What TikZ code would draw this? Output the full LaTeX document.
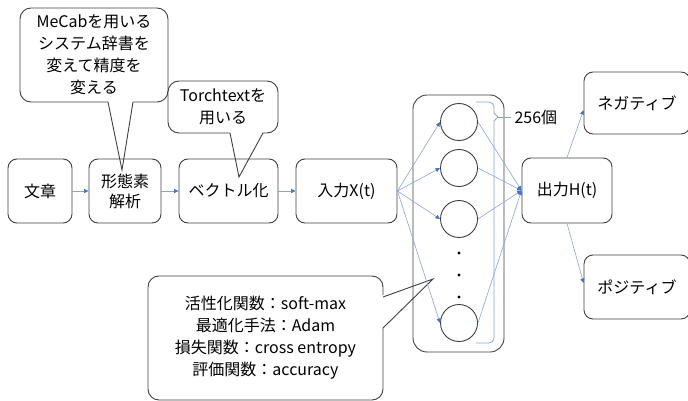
\documentclass[tikz,border=0pt]{standalone}
\usepackage{fontspec}
\setmainfont{Noto Sans CJK JP}
\usetikzlibrary{arrows.meta}
\definecolor{boxline}{HTML}{404040}
\definecolor{linkblue}{HTML}{86A3DA}
\definecolor{tipblue}{HTML}{4472C4}
\tikzset{
  stepbox/.style = {draw=boxline,line width=0.9pt,rounded corners=9pt,align=center,
                    inner sep=0pt,minimum height=64pt,font=\fontsize{16}{20}\selectfont},
  unit/.style    = {circle,draw=boxline,line width=0.9pt,minimum size=37pt,inner sep=0pt},
  note/.style    = {draw=boxline,line width=0.9pt,rounded corners=11pt,fill=white,align=center,
                    inner sep=0pt,font=\fontsize{16}{22}\selectfont},
  link/.style    = {-{Triangle[length=4.5pt,width=4pt,color=tipblue]},linkblue,line width=0.6pt},
  pointer/.style = {boxline,line width=0.9pt,line join=miter}
}

\begin{document}
\begin{tikzpicture}[x=1pt,y=-1pt]
  \useasboundingbox (0,0) rectangle (688,401);

  % speech bubbles, drawn first so the boxes sit on top of the pointers
  \node[note,minimum width=148pt,minimum height=94pt] (mecab) at (94,55)
    {MeCabを用いる\\システム辞書を\\変えて精度を\\変える};
  \fill[white] (107.5,99) -- (122,170) -- (133.5,99) -- cycle;
  \draw[pointer] (108,102) -- (122,170) -- (133,102);

  \node[note,minimum width=110pt,minimum height=52pt] (torch) at (223,107)
    {Torchtextを\\用いる};
  \fill[white] (229.5,130.5) -- (239,177) -- (263.5,130.5) -- cycle;
  \draw[pointer] (230,133) -- (239,177) -- (263,133);

  \node[note,minimum width=235pt,minimum height=124pt] (setting) at (265.5,338)
    {活性化関数：soft-max\\最適化手法：Adam\\損失関数：cross entropy\\評価関数：accuracy};
  \fill[white] (380.5,296) -- (433,279) -- (380.5,329.5) -- cycle;
  \draw[pointer] (383,297) -- (433,279) -- (383,328);

  % processing chain
  \node[stepbox,minimum width=64pt]  (text)  at (40,191)    {文章};
  \node[stepbox,minimum width=72pt]  (morph) at (125,191)   {形態素\\解析};
  \node[stepbox,minimum width=99pt]  (vec)   at (228.5,191) {ベクトル化};
  \node[stepbox,minimum width=101pt] (inx)   at (346.5,191) {入力X(t)};

  % hidden layer
  \node[draw=boxline,line width=0.9pt,rounded corners=14pt,minimum width=91pt,
        minimum height=257pt] (layer) at (458.5,223.5) {};
  \node[unit] (u1) at (459,122) {};
  \node[unit] (u2) at (459,168) {};
  \node[unit] (u3) at (459,219) {};
  \node[unit] (u4) at (459,323) {};
  \fill[black] (459,253) circle (1.6) (459,275) circle (1.6) (459,297) circle (1.6);

  % brace with unit count
  \coordinate (brtip) at (498,117);
  \draw[linkblue,line width=0.8pt] (476,102) -- (489,102) to[out=0,in=90] (494,107)
    -- (494,113) -- (brtip) -- (494,121) -- (494,338) to[out=-90,in=0] (489,343) -- (476,343);
  \node[anchor=west,font=\fontsize{16}{20}\selectfont] (cnt) at (511,117) {256個};
  \draw[linkblue,line width=0.8pt] (brtip) -- (cnt.west);

  % output side
  \node[stepbox,minimum width=90pt,minimum height=65pt] (outh) at (567,190.5) {出力H(t)};
  \node[stepbox,minimum width=106pt,minimum height=62pt] (neg) at (637,103) {ネガティブ};
  \node[stepbox,minimum width=106pt] (pos) at (637,287) {ポジティブ};

  \draw[link] (text) -- (morph);
  \draw[link] (morph) -- (vec);
  \draw[link] (vec) -- (inx);
  \draw[link] (inx.east) -- (u1.west);
  \draw[link] (inx.east) -- (u2.west);
  \draw[link] (inx.east) -- (u3.west);
  \draw[link] (inx.east) -- (u4.west);
  \draw[link] (u1.east) -- (outh.west);
  \draw[link] (u2.east) -- (outh.west);
  \draw[link] (u3.east) -- (outh.west);
  \draw[link] (u4.east) -- (outh.west);
  \draw[link] (outh.north) -- ([yshift=-7pt]neg.west);
  \draw[link] (outh.south) -- ([yshift=4pt]pos.west);
\end{tikzpicture}
\end{document}
